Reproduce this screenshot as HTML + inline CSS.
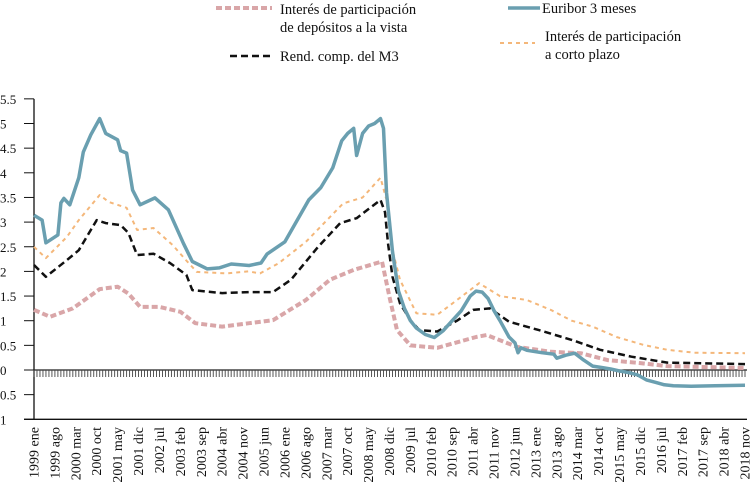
<!DOCTYPE html>
<html><head><meta charset="utf-8"><style>
html,body{margin:0;padding:0;background:#fff}
svg{display:block}
text{font-family:"Liberation Serif",serif;fill:#111}
</style></head><body>
<svg id="chart" width="750" height="498" viewBox="0 0 750 498" xmlns="http://www.w3.org/2000/svg">
<g>
 <line x1="216" y1="8" x2="272" y2="8" stroke="#d9a6a8" stroke-width="4" stroke-dasharray="6 3"/>
 <text x="280" y="14" font-size="14.5">Interés de participación</text>
 <text x="280" y="32" font-size="14.5">de depósitos a la vista</text>
 <line x1="508" y1="8" x2="540" y2="8" stroke="#6a9fb0" stroke-width="3.5"/>
 <text x="542" y="13" font-size="14.5">Euribor  3 meses</text>
 <line x1="230" y1="56" x2="272" y2="56" stroke="#111" stroke-width="2.5" stroke-dasharray="7 4"/>
 <text x="280" y="61" font-size="14.5">Rend. comp. del M3</text>
 <line x1="500" y1="43" x2="535" y2="43" stroke="#f4b77a" stroke-width="2" stroke-dasharray="4 4"/>
 <text x="545" y="41" font-size="14.5">Interés de participación</text>
 <text x="545" y="59" font-size="14.5">a corto plazo</text>
</g>
<g id="axes"></g>
<g id="series"></g>
</svg>
<script>
const yTicks = [5.5,5,4.5,4,3.5,3,2.5,2,1.5,1,0.5,0,-0.5,-1];
const yTickLabels = ["5.5","5","4.5","4","3.5","3","2.5","2","1.5","1","0.5","0","0.5","1"];
const monthNames = ["ene","feb","mar","abr","may","jun","jul","ago","sep","oct","nov","dic"];
const euriborMonths = [0,2.7,4,8,9,10,12,15,16.5,19,22,24,28,29,31,33,35.5,40.5,45,50,53,58,62,66,72,76,78,84,92,96,100,103,105,107,108,110,112,114,116,117,118,120,122,124,126,128,131,134,137,140,143,146,148,150,152,154,156,159,161,162,163,165,170,174,175,178,181,184,187,190,193,196,199,202,205,208,211,214,220,228,238];
const euribor = [3.14,3.04,2.58,2.74,3.39,3.48,3.35,3.9,4.42,4.77,5.1,4.8,4.67,4.45,4.4,3.65,3.35,3.49,3.25,2.57,2.2,2.05,2.07,2.15,2.12,2.17,2.35,2.6,3.45,3.7,4.1,4.65,4.8,4.9,4.35,4.8,4.95,5.0,5.1,4.9,3.6,2.4,1.6,1.25,1.0,0.85,0.72,0.66,0.8,1.0,1.2,1.5,1.6,1.58,1.45,1.2,1.0,0.67,0.55,0.35,0.45,0.4,0.35,0.32,0.24,0.3,0.34,0.2,0.08,0.05,0.02,-0.02,-0.05,-0.1,-0.2,-0.25,-0.3,-0.32,-0.33,-0.32,-0.31];
const cortoMonths = [0,4,11,15,22,25,31,34.5,40,46.5,51,54.5,64.5,71.7,75.7,82,91,99,103.5,110,116,118,120,122.5,128,135,141.6,149,156,165,173,180,187,195,204,212,221,238];
const corto = [2.5,2.27,2.7,3.04,3.55,3.41,3.29,2.84,2.88,2.53,2.22,1.99,1.96,2.0,1.96,2.17,2.6,3.1,3.38,3.5,3.9,3.45,2.43,1.83,1.15,1.12,1.42,1.76,1.5,1.42,1.22,1.0,0.88,0.67,0.51,0.41,0.35,0.34];
const m3Months = [0,4,11,15,21,24,29,31.6,34.5,40,45.5,51,53,63,72,80,86,95,102.5,108,116,117.5,118.5,120,122.5,126,129,135,141.6,147,152.6,159,169,180,189.5,200,212,238];
const m3 = [2.13,1.89,2.23,2.43,3.04,2.98,2.94,2.78,2.33,2.36,2.17,1.93,1.62,1.56,1.58,1.58,1.83,2.49,2.98,3.08,3.45,3.2,2.57,1.89,1.35,1.01,0.81,0.78,1.0,1.22,1.25,0.98,0.81,0.61,0.41,0.27,0.15,0.12];
const vistaMonths = [0,5.4,13,22,28,31.6,35.5,42,49,54,63,72,80,91,99,107,116.5,119,121.5,126,135,148,151.5,161.6,173,183,192,203,212,238];
const vista = [1.22,1.08,1.25,1.64,1.69,1.55,1.28,1.28,1.18,0.95,0.88,0.95,1.01,1.42,1.83,2.03,2.2,1.48,0.81,0.5,0.45,0.67,0.71,0.47,0.37,0.34,0.2,0.14,0.08,0.04];

const NS="http://www.w3.org/2000/svg";
const X0=34, X1=745, NM=238, Y0=370, PU=49.3;
const xs=m=>X0+m*(X1-X0)/NM;
const ys=v=>Y0-v*PU;
function mk(t,a,p){const e=document.createElementNS(NS,t);for(const k in a)e.setAttribute(k,a[k]);p.appendChild(e);return e;}
const ax=document.getElementById('axes'), sg=document.getElementById('series');

const yaxis=mk('line',{x1:X0,y1:ys(5.5),x2:X0,y2:ys(-1),stroke:'#111','stroke-width':1.3},ax);


yTicks.forEach((v,i)=>{
 const tk=mk('line',{x1:24,y1:ys(v),x2:X0,y2:ys(v),stroke:'#111','stroke-width':1},ax);
 
 
 const t=mk('text',{x:0,y:ys(v)+5,'font-size':13},ax);
 t.textContent=yTickLabels[i];
 
 
});
const bottom=mk('line',{x1:24,y1:ys(-1),x2:747,y2:ys(-1),stroke:'#111','stroke-width':1.3},ax);


const zero=mk('line',{x1:X0,y1:Y0,x2:747,y2:Y0,stroke:'#222','stroke-width':1.2},ax);


for(let m=0;m<=NM;m++){
 const h=mk('line',{x1:xs(m),y1:Y0,x2:xs(m),y2:Y0+7,stroke:'#444','stroke-width':0.9},ax);
 
 
}
for(let m=0;m<=NM;m+=7){
 const lbl=(1999+Math.floor(m/12))+' '+monthNames[m%12];
 const t=mk('text',{x:0,y:0,'font-size':14,'text-anchor':'end',transform:`translate(${xs(m)+4.5},427) rotate(-90)`},ax);
 t.textContent=lbl;
 
 
}
function line(ms,vals,attrs,name){
 const d=ms.map((m,i)=>(i?'L':'M')+xs(m).toFixed(1)+','+ys(vals[i]).toFixed(1)).join(' ');
 const p=mk('path',Object.assign({d:d,fill:'none','stroke-linejoin':'round'},attrs),sg);
 
 
}
line(vistaMonths,vista,{stroke:'#d9a6a8','stroke-width':4,'stroke-dasharray':'6 3'},'series-vista');
line(cortoMonths,corto,{stroke:'#f4b77a','stroke-width':2,'stroke-dasharray':'4 4'},'series-corto-plazo');
line(m3Months,m3,{stroke:'#111','stroke-width':2.5,'stroke-dasharray':'7 4'},'series-m3');
line(euriborMonths,euribor,{style:'stroke:#6a9fb0;stroke-width:3.5px'},'series-euribor');
</script>
</body></html>
